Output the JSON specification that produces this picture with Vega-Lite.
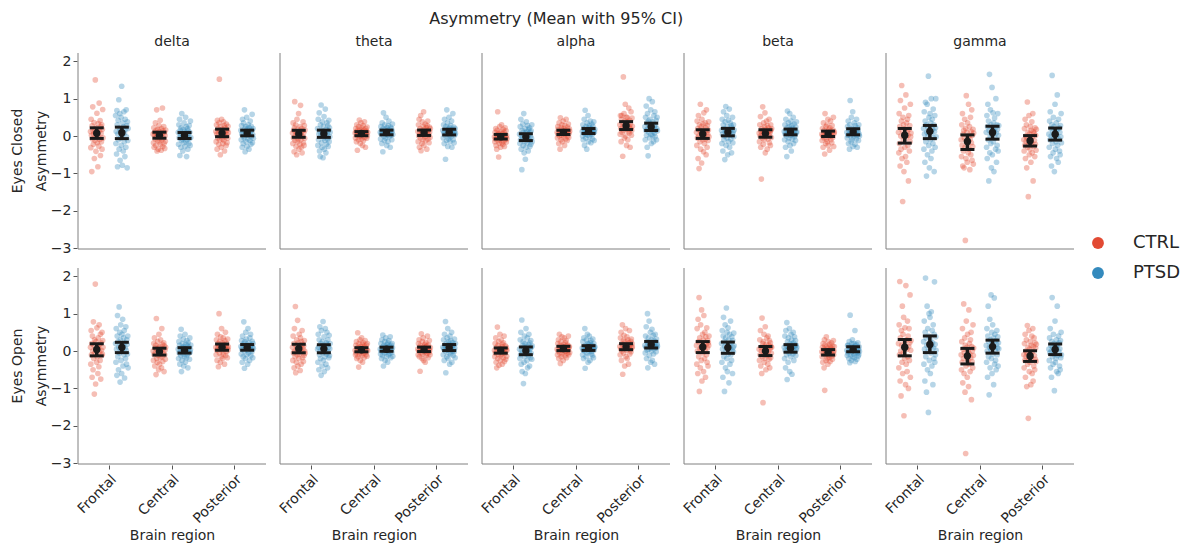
{
"$schema": "https://vega.github.io/schema/vega-lite/v6.json",
"background": "white",
"padding": {"left": 11, "top": 11, "right": 5, "bottom": 5},
"title": {"text": "Asymmetry (Mean with 95% CI)", "fontSize": 16, "fontWeight": "normal", "font": "DejaVu Sans", "color": "#262626", "anchor": "middle", "offset": 8, "dx": -40},
"datasets": {"d": [
{"s":"Eyes Closed","b":"delta","g":"CTRL","Frontal":[0.12,-0.31,0.45,0.02,-0.95,0.27,-0.08,0.78,0.15,-0.22,0.05,0.36,-0.6,0.19,-0.12,1.5,0.08,-0.41,0.22,-0.03,0.61,-0.18,0.1,-0.82,0.33,0,-0.27,0.88,0.14,-0.09,0.41,-0.52,0.25,0.07,-0.15,0.3,-0.35,0.18,0.71,-0.05],"Central":[0.05,-0.18,0.22,-0.3,0.1,0.02,-0.08,0.35,-0.25,0.15,-0.02,0.7,-0.4,0.08,-0.12,0.18,-0.35,0,0.28,-0.15,0.12,-0.05,0.42,-0.22,0.03,-0.38,0.2,-0.1,0.06,0.75,-0.28,0.14,-0.06,0.25,-0.2,0.09,-0.33,0.01,-0.14,0.16],"Posterior":[0.12,-0.15,0.3,0.05,-0.35,0.42,-0.05,0.2,0.08,-0.22,0.35,1.52,-0.1,0.15,-0.5,0.25,0,-0.3,0.45,0.1,-0.08,0.18,-0.2,0.02,0.38,-0.12,0.28,-0.4,0.06,0.22,-0.02,0.14,-0.25,0.32,0.04,-0.18,0.16,-0.06,0.26,0.09]},
{"s":"Eyes Closed","b":"delta","g":"PTSD","Frontal":[0.55,-0.2,0.12,-0.48,0.68,0.3,-0.82,0.05,0.42,-0.1,0.97,-0.35,0.21,0.6,-0.65,0.15,-0.05,0.5,-0.25,1.33,0.02,-0.78,0.35,0.1,-0.4,0.25,0.65,-0.15,0.08,-0.55,0.45,0.18,-0.3,0.7,-0.02,0.28,-0.85,0.38,-0.12,0.2],"Central":[0.1,-0.22,0.3,-0.05,0.45,-0.52,0.15,0.02,-0.3,0.22,-0.12,0.6,-0.08,0.05,-0.4,0.18,0,-0.18,0.35,-0.02,0.12,-0.28,0.08,0.5,-0.15,0.25,-0.55,0.03,-0.1,0.2,-0.35,0.14,0.06,-0.2,0.28,-0.06,0.1,-0.25,0.4,-0.04],"Posterior":[0.15,-0.1,0.28,0.05,-0.3,0.45,0.1,-0.2,0.35,0,-0.05,0.7,0.2,-0.42,0.12,0.25,-0.15,0.08,0.5,-0.28,0.18,0.02,-0.08,0.3,0.14,-0.35,0.22,0.06,-0.12,0.4,0.1,-0.22,0.26,-0.02,0.16,0.58,-0.18,0.04,0.2,-0.06]},
{"s":"Eyes Closed","b":"theta","g":"CTRL","Frontal":[0.08,-0.2,0.35,-0.05,0.15,-0.42,0.22,0.92,-0.12,0.02,0.3,-0.28,0.1,-0.5,0.45,0.05,-0.15,0.18,-0.08,0.6,-0.35,0.12,0,-0.22,0.25,0.82,-0.1,0.06,-0.3,0.2,-0.45,0.14,-0.02,0.38,-0.18,0.09,-0.25,0.28,-0.06,0.16],"Central":[0.08,-0.05,0.2,0.12,-0.15,0.3,0.02,-0.38,0.15,0.05,-0.1,0.25,0.1,0.43,-0.02,0.18,-0.2,0.06,0.35,0,-0.08,0.22,0.14,-0.25,0.09,0.28,-0.12,0.04,0.16,0.38,-0.04,0.11,-0.3,0.2,0.07,0.13,-0.06,0.24,0.01,0.1],"Posterior":[0.12,-0.15,0.3,0,0.45,-0.3,0.08,0.2,-0.05,0.55,-0.39,0.15,0.05,-0.2,0.38,0.1,-0.1,0.25,0.65,-0.25,0.02,0.18,-0.02,0.32,0.06,-0.12,0.22,0.14,-0.35,0.28,0.09,0.4,-0.08,0.16,0.03,-0.18,0.24,0.11,-0.04,0.2]},
{"s":"Eyes Closed","b":"theta","g":"PTSD","Frontal":[0.2,-0.25,0.45,-0.1,0.05,0.62,-0.4,0.12,-0.55,0.3,0,0.83,-0.18,0.15,-0.3,0.38,0.08,-0.58,0.25,-0.05,0.52,-0.35,0.1,-0.12,0.72,0.02,-0.45,0.18,-0.22,0.35,0.06,-0.08,0.28,-0.28,0.14,0.42,-0.15,0.22,-0.02,0.1],"Central":[0.1,-0.08,0.25,0.05,0.15,-0.2,0.35,0.08,-0.42,0.2,0.62,0,0.12,-0.12,0.3,0.06,0.18,-0.05,0.5,0.1,-0.25,0.22,0.03,0.14,-0.15,0.28,0.09,0.4,-0.02,0.16,0.07,-0.3,0.24,0.11,0.02,0.2,-0.1,0.13,0.32,0.04],"Posterior":[0.15,-0.05,0.3,0.08,-0.2,0.45,0.1,0.02,-0.62,0.25,0.18,-0.12,0.7,0.05,0.35,-0.28,0.12,0.2,-0.08,0.5,0,0.22,-0.15,0.1,0.28,-0.02,0.14,0.4,-0.3,0.06,0.18,0.6,-0.1,0.09,0.24,-0.18,0.12,0.03,0.2,0.07]},
{"s":"Eyes Closed","b":"alpha","g":"CTRL","Frontal":[-0.02,-0.15,0.1,-0.08,0.2,-0.25,0,-0.35,0.15,-0.05,0.65,-0.12,0.05,-0.56,0.08,-0.2,0.25,-0.1,0.02,-0.3,0.12,-0.04,0.3,-0.18,-0.06,0.06,-0.22,0.18,-0.01,-0.14,0.1,-0.28,0.04,0.22,-0.09,-0.03,0.14,-0.16,0.01,-0.07],"Central":[0.1,-0.05,0.25,0.05,0.18,-0.2,0.35,0,0.12,-0.35,0.49,0.08,-0.1,0.22,0.02,0.3,-0.15,0.15,0.06,0.4,-0.02,0.2,0.1,-0.25,0.28,0.04,0.14,-0.08,0.45,0.09,0.16,-0.12,0.24,0,0.11,0.32,-0.04,0.07,0.19,0.13],"Posterior":[0.3,0.05,0.55,0.2,-0.15,0.45,0.55,0.1,0.35,-0.54,0.25,1.58,0.15,0.6,-0.05,0.4,0.22,0.85,0,0.3,0.5,-0.25,0.18,0.5,0.28,-0.1,0.38,0.12,0.75,0.25,0.08,0.42,-0.3,0.32,0.2,0.65,0.02,0.15,0.48,0.26]},
{"s":"Eyes Closed","b":"alpha","g":"PTSD","Frontal":[0.05,-0.2,0.25,-0.1,0.45,-0.35,0,-0.9,0.15,-0.05,0.32,-0.25,0.1,0.6,-0.45,0.02,-0.15,0.2,-0.62,0.08,-0.3,0.38,-0.08,0.12,-0.18,0.28,-0.02,-0.4,0.18,0.05,-0.12,0.22,-0.28,0.1,0,-0.22,0.14,-0.06,0.3,-0.15],"Central":[0.12,0,0.3,-0.1,0.2,0.08,0.45,-0.25,0.15,0.69,0.05,-0.05,0.25,0.1,-0.35,0.35,0.18,0.02,0.55,-0.15,0.22,0.1,0.28,-0.02,0.14,0.4,0.06,-0.18,0.2,0.12,0.32,0.04,-0.08,0.26,0.16,0.09,0.38,-0.12,0.11,0.18],"Posterior":[0.25,-0.1,0.5,0.15,0.8,0.02,0.35,-0.3,0.6,0.2,-0.53,0.4,0.1,1,0.28,-0.05,0.45,0.18,0.7,0.05,-0.2,0.32,0.22,0.92,0,0.38,0.12,-0.15,0.55,0.26,0.08,0.65,-0.02,0.3,0.16,0.42,-0.1,0.2,0.5,0.14]},
{"s":"Eyes Closed","b":"beta","g":"CTRL","Frontal":[0.1,-0.25,0.4,-0.05,0.2,-0.6,0.55,0,-0.87,0.3,0.15,-0.15,0.85,-0.35,0.08,0.25,-0.72,0.45,0.05,-0.1,0.32,0.18,-0.42,0.62,0.02,-0.2,0.12,0.35,-0.08,0.22,-0.5,0.7,0.1,-0.3,0.28,0.04,-0.12,0.16,0.38,-0.02],"Central":[0.08,-0.15,0.3,0,0.52,-0.3,0.12,-1.15,0.2,0.05,-0.05,0.78,0.15,-0.22,0.35,0.1,-0.1,0.25,0.62,-0.45,0.02,0.18,-0.02,0.4,0.06,-0.35,0.28,0.12,-0.08,0.22,0.04,0.45,-0.18,0.14,0.09,-0.25,0.3,0.16,-0.04,0.2],"Posterior":[0.05,-0.12,0.2,0,-0.3,0.35,0.08,-0.05,0.15,-0.48,0.6,0.02,-0.2,0.25,0.1,-0.08,0.3,-0.15,0.12,0.45,-0.25,0.04,0.18,-0.02,-0.38,0.22,0.06,0.4,-0.1,0.14,0,-0.18,0.28,0.09,-0.04,0.16,0.5,-0.28,0.07,0.11]},
{"s":"Eyes Closed","b":"beta","g":"PTSD","Frontal":[0.15,-0.2,0.45,0.05,-0.4,0.3,0.65,-0.1,0.2,0,-0.63,0.38,0.1,0.79,-0.25,0.12,0.55,-0.05,0.25,-0.5,0.08,0.42,-0.15,0.18,0.72,-0.3,0.02,0.35,0.14,-0.08,0.28,-0.45,0.22,0.06,0.5,-0.18,0.1,0.3,-0.02,0.16],"Central":[0.12,-0.1,0.3,0.05,-0.3,0.45,0.15,0,-0.55,0.22,0.67,0.08,-0.15,0.35,0.1,-0.05,0.25,0.6,-0.25,0.18,0.02,0.4,-0.4,0.14,0.28,-0.08,0.2,0.06,0.5,-0.2,0.1,0.32,-0.02,0.16,0.03,-0.12,0.24,0.09,0.38,0.11],"Posterior":[0.1,-0.05,0.25,0.02,0.4,-0.2,0.15,0.06,-0.35,0.3,0.95,0,0.12,-0.15,0.5,0.08,-0.1,0.2,0.65,-0.28,0.04,0.18,-0.02,0.35,0.1,-0.22,0.28,0.06,0.14,-0.08,0.45,0.02,-0.3,0.22,0.09,0.16,-0.12,0.3,0.05,0]},
{"s":"Eyes Closed","b":"gamma","g":"CTRL","Frontal":[0.1,-0.45,0.6,-0.2,0.25,-0.8,0.95,0,-0.35,0.4,1.35,-0.6,0.15,-1.75,0.5,-0.1,0.3,-0.95,0.05,0.75,-0.3,0.2,-0.55,1.1,-0.05,0.35,-0.7,0.12,0.45,-0.25,0.02,-1.2,0.55,0.18,-0.4,0.28,-0.15,0.85,-0.02,0.08],"Central":[-0.1,-0.55,0.3,-0.25,0.6,-0.8,0.05,-0.4,0.15,-0.85,-0.05,0.45,-0.3,-2.79,0.2,-0.6,1.08,-0.15,0.1,-0.7,0.35,-0.2,-0.45,0.85,0,-0.35,0.25,-0.9,-0.08,0.5,-0.5,0.12,-0.18,0.7,-0.65,0.02,-0.28,0.18,-0.75,0.08],"Posterior":[-0.1,-0.4,0.2,-0.25,0.45,-0.6,0,-0.15,0.3,-0.85,-0.05,0.91,-0.3,0.1,-1.62,-0.2,0.55,-0.5,0.05,-0.35,0.25,-0.08,-0.7,0.15,-0.18,0.38,-0.45,-0.02,0.6,-1.2,0.12,-0.28,0.08,-0.12,-0.55,0.22,-0.22,0.02,-0.38,0.18]},
{"s":"Eyes Closed","b":"gamma","g":"PTSD","Frontal":[0.2,-0.35,0.65,0.05,-0.7,0.4,0.9,-0.15,0.3,-1.07,0.1,0.85,-0.5,0.25,0,1.6,-0.25,0.5,-0.85,0.15,0.6,-0.1,0.35,-0.6,1,0.08,-0.4,0.45,0.18,-0.2,0.72,-0.05,0.3,-0.95,0.12,0.55,-0.3,0.22,1,-0.02],"Central":[0.1,-0.3,0.55,-0.6,0.25,0.85,-0.1,0.4,-1.2,0.15,1.65,-0.45,0,0.7,-0.2,0.3,-0.85,0.05,1.3,-0.5,0.2,0.62,-0.15,0.35,-0.95,0.12,0.48,-0.05,0.22,-0.35,1,0.08,-0.7,0.3,-0.25,0.18,0.6,-0.4,0.02,0.28],"Posterior":[0.05,-0.3,0.4,-0.1,0.65,-0.55,0.2,0,-0.8,0.3,1.62,-0.2,0.12,-0.45,0.5,-0.05,0.25,-0.95,0.08,0.85,-0.35,0.15,-0.15,0.35,-0.6,0.02,1.1,-0.25,0.18,-0.7,0.45,-0.08,0.22,-0.4,0.1,-0.5,0.28,-0.02,0.6,-0.18]},
{"s":"Eyes Open","b":"delta","g":"CTRL","Frontal":[0.1,-0.35,0.55,-0.1,0.2,-0.7,0.4,0,-0.5,0.78,-0.2,0.15,-1.15,0.3,-0.05,1.79,-0.88,0.25,0.05,-0.3,0.62,-0.15,0.12,-0.6,0.35,0.08,-0.42,0.7,-0.02,0.18,-0.25,0.45,-0.75,0.22,0.02,-0.12,0.5,-0.08,0.28,0.1],"Central":[0,-0.25,0.2,-0.1,0.35,-0.4,0.08,-0.05,0.15,-0.63,0.87,-0.2,0.05,-0.3,0.25,-0.12,0.1,-0.5,0.45,-0.02,-0.35,0.12,-0.18,0.3,-0.08,0.02,-0.45,0.6,-0.15,0.18,-0.28,0.06,-0.06,0.22,-0.55,0.14,-0.1,0.03,-0.22,0.1],"Posterior":[0.1,-0.1,0.3,0.02,-0.25,0.45,0.08,0.2,-0.42,0.15,1,-0.05,0.25,0.05,-0.3,0.38,0.12,-0.15,0.6,0,0.22,-0.2,0.1,0.35,-0.08,0.18,0.05,-0.35,0.28,0.06,0.5,-0.12,0.14,-0.02,0.2,0.09,-0.18,0.32,0.03,0.11]},
{"s":"Eyes Open","b":"delta","g":"PTSD","Frontal":[0.2,-0.3,0.6,0.05,-0.65,0.4,0.95,-0.15,0.25,-0.5,0.1,1.18,-0.05,0.5,-0.83,0.3,0.7,-0.25,0.15,-0.6,0.45,0,0.85,-0.4,0.12,0.35,-0.1,0.55,-0.72,0.22,0.08,-0.2,0.65,0.02,-0.35,0.3,0.18,-0.08,0.4,-0.45],"Central":[0.05,-0.2,0.25,-0.05,0.15,-0.35,0.4,0,-0.12,0.58,-0.55,0.1,-0.25,0.2,0.02,-0.08,0.32,-0.4,0.12,-0.15,0.08,0.45,-0.3,0.18,-0.02,0.06,-0.18,0.28,-0.1,0.14,-0.45,0.22,0,-0.06,0.1,-0.22,0.35,-0.03,0.04,0.16],"Posterior":[0.12,-0.08,0.28,0.05,-0.3,0.4,0.15,-0.15,0.2,0.78,0,-0.46,0.25,0.1,-0.2,0.5,0.08,0.32,-0.1,0.18,0.02,-0.35,0.6,0.14,-0.05,0.22,0.06,-0.25,0.35,0.1,0.45,-0.12,0.16,0.03,-0.02,0.26,0.09,-0.18,0.2,0.07]},
{"s":"Eyes Open","b":"theta","g":"CTRL","Frontal":[0.1,-0.25,0.4,-0.05,0.2,-0.45,0.6,0,-0.15,1.19,-0.58,0.15,-0.3,0.3,0.05,-0.1,0.82,-0.4,0.22,0.02,-0.2,0.45,-0.08,0.12,-0.52,0.35,0.08,-0.35,0.25,-0.02,0.55,-0.18,0.18,0.06,-0.28,0.14,-0.12,0.28,0,-0.06],"Central":[0.02,-0.1,0.15,-0.05,0.25,-0.2,0.08,0,0.49,-0.15,0.1,-0.43,0.2,0.04,-0.08,0.3,-0.25,0.12,0.06,-0.02,0.35,-0.12,0.18,-0.3,0.05,0.22,-0.06,0.1,-0.18,0.14,0,0.28,-0.04,0.08,-0.1,0.16,0.03,-0.14,0.2,0.01],"Posterior":[0.05,-0.1,0.2,0,0.3,-0.15,0.1,-0.54,0.15,0.02,-0.05,0.46,0.08,-0.2,0.25,0.04,-0.08,0.35,-0.25,0.12,0.06,-0.02,0.18,-0.3,0.1,0.22,-0.12,0.03,0.14,-0.06,0.4,0,-0.18,0.16,0.07,-0.04,0.28,0.01,-0.1,0.09]},
{"s":"Eyes Open","b":"theta","g":"PTSD","Frontal":[0.05,-0.3,0.45,0.1,-0.5,0.3,-0.1,0.65,0,-0.2,0.2,-0.65,0.55,0.12,-0.4,0.25,-0.05,0.79,-0.25,0.15,0.38,-0.55,0.08,-0.15,0.6,0.02,-0.35,0.22,-0.08,0.5,0.18,-0.45,0.3,-0.02,0.1,-0.18,0.42,-0.12,0.06,0.2],"Central":[0.05,-0.08,0.2,0,-0.2,0.3,0.1,-0.12,0.43,0.02,-0.4,0.15,0.08,-0.05,0.25,-0.25,0.12,0.35,-0.02,0.06,-0.15,0.18,0.04,-0.3,0.22,0.1,-0.1,0.28,0,0.14,-0.06,0.38,0.07,-0.18,0.16,0.03,-0.04,0.2,0.09,-0.14],"Posterior":[0.1,-0.1,0.3,0.05,-0.25,0.45,0.15,0,0.79,-0.58,0.2,0.08,-0.15,0.35,0.02,0.6,-0.2,0.12,0.25,-0.05,0.18,-0.35,0.4,0.06,-0.08,0.28,0.1,0.5,-0.3,0.14,0,0.22,-0.12,0.16,0.04,-0.02,0.32,0.08,-0.18,0.2]},
{"s":"Eyes Open","b":"alpha","g":"CTRL","Frontal":[0.02,-0.15,0.2,-0.05,0.35,-0.3,0.1,-0.45,0,0.64,-0.2,0.15,-0.1,0.25,-0.38,0.05,-0.02,0.45,-0.25,0.08,-0.12,0.3,-0.08,0.12,-0.35,0.18,0,-0.18,0.22,-0.04,0.4,-0.28,0.06,-0.06,0.14,-0.22,0.03,0.1,-0.14,0.02],"Central":[0.05,-0.1,0.2,0,0.3,-0.2,0.1,0.45,-0.05,0.15,-0.33,0.08,0.25,-0.15,0.02,0.38,-0.08,0.12,0.06,-0.25,0.18,0.04,0.35,-0.02,0.1,-0.12,0.22,0,0.28,-0.18,0.14,0.07,-0.06,0.16,0.03,0.4,-0.1,0.09,0.12,-0.04],"Posterior":[0.12,-0.1,0.35,0.05,0.5,-0.25,0.2,0,0.7,-0.62,0.15,0.28,-0.05,0.42,0.08,-0.4,0.25,0.1,0.6,-0.15,0.18,0.02,0.38,-0.2,0.14,0.3,0.06,-0.35,0.22,0.1,0.55,-0.08,0.16,0.04,0.26,-0.02,0.32,0.09,0.2,0.11]},
{"s":"Eyes Open","b":"alpha","g":"PTSD","Frontal":[0.05,-0.2,0.3,-0.1,0.5,-0.35,0,0.83,-0.55,0.15,-0.05,0.25,-0.87,0.1,-0.3,0.4,-0.15,0.2,-0.6,0.08,0.6,-0.08,0.12,-0.25,0.35,-0.45,0.02,0.18,-0.12,0.45,-0.02,-0.4,0.22,0.06,-0.18,0.28,-0.06,0.1,-0.22,0.14],"Central":[0.08,-0.1,0.25,0.02,-0.2,0.35,0.1,0,0.6,-0.46,0.15,0.05,-0.15,0.3,0.12,-0.05,0.45,0.2,-0.3,0.06,0.18,-0.02,0.4,0.1,-0.25,0.22,0.04,0.28,-0.08,0.14,0,0.16,-0.12,0.32,0.07,-0.18,0.2,0.03,0.1,0.11],"Posterior":[0.15,-0.05,0.4,0.1,0.65,-0.2,0.25,0.02,1,-0.45,0.18,0.35,0.05,0.8,-0.12,0.22,0.12,0.5,-0.3,0.08,0.3,0,0.58,-0.25,0.2,0.14,0.42,-0.08,0.28,0.06,-0.35,0.16,0.45,0.1,0.24,-0.02,0.32,0.09,0.19,0.13]},
{"s":"Eyes Open","b":"beta","g":"CTRL","Frontal":[0.15,-0.35,0.6,0,-0.6,0.85,0.25,-0.15,1.43,-1.08,0.35,0.05,-0.45,0.7,0.1,-0.25,1.1,-0.8,0.2,0.45,-0.05,0.3,-0.55,0.95,0.12,-0.2,0.5,0.02,-0.7,0.38,0.18,-0.1,0.62,-0.3,0.08,0.28,-0.4,0.22,0.15,0.4],"Central":[0.05,-0.25,0.3,-0.1,0.55,-0.4,0.1,0,-0.6,0.88,-0.15,0.2,-1.38,0.25,-0.05,0.45,-0.3,0.12,-0.2,0.65,0.02,-0.5,0.18,-0.08,0.35,-0.12,0.08,-0.35,0.4,-0.02,0.15,-0.22,0.28,-0.45,0.06,0.22,-0.18,0.12,-0.06,0.1],"Posterior":[-0.02,-0.15,0.1,-0.3,0.2,-0.05,0.05,-0.45,0.3,-1.05,0.15,-0.1,0,-0.25,0.38,-0.08,0.12,-0.2,0.08,-0.35,0.25,-0.12,0.02,-0.18,0.18,-0.04,-0.28,0.1,0.04,-0.06,0.22,-0.14,0.06,-0.22,0.14,-0.01,0.28,-0.1,0,0.12]},
{"s":"Eyes Open","b":"beta","g":"PTSD","Frontal":[0.2,-0.3,0.55,0.05,-0.7,0.4,0.9,-0.15,0.25,-1.08,0.12,0.7,-0.45,0.35,0,1.15,-0.2,0.5,-0.55,0.15,0.62,-0.08,0.3,-0.85,0.18,0.45,-0.35,0.08,0.8,-0.1,0.22,-0.25,0.38,0.02,-0.6,0.28,0.1,-0.02,0.48,0.14],"Central":[0.1,-0.2,0.4,0.02,-0.45,0.55,0.15,-0.1,0.76,-0.76,0.25,0.05,-0.3,0.35,0.08,-0.05,0.6,-0.55,0.2,0.12,-0.15,0.45,0,0.3,-0.62,0.18,0.06,-0.08,0.5,0.22,-0.25,0.12,0.38,-0.02,0.14,0.28,-0.12,0.16,0.04,0.1],"Posterior":[0.02,-0.12,0.15,-0.05,0.15,0,-0.2,0.25,0.08,-0.31,0.96,-0.1,0.1,0.05,-0.25,0.2,-0.02,0.3,-0.15,0.12,0.03,-0.08,0.2,-0.18,0.06,0.55,-0.28,0.14,-0.04,0.18,0,-0.22,0.09,-0.06,0.22,-0.14,0.04,-0.1,0.11,-0.01]},
{"s":"Eyes Open","b":"gamma","g":"CTRL","Frontal":[0.2,-0.45,0.7,-0.1,1.86,-0.8,0.35,0,-1.2,0.55,0.15,-0.3,1.2,-0.6,0.45,-0.05,0.9,-1.73,0.25,-0.2,0.62,0.1,-0.9,1.75,-0.35,0.3,0.05,-0.55,0.8,-0.15,0.4,-1,0.12,0.6,-0.25,0.22,1.5,-0.7,0.02,0.28],"Central":[-0.1,-0.5,0.25,-0.3,0.6,-0.85,0.05,-0.2,1.26,-0.6,-0.05,0.35,-1.1,0.15,-2.74,-0.4,0.8,-0.15,0.1,-0.7,0.45,-0.25,0.02,-0.95,1.1,-0.35,0.2,-0.08,-0.55,0.3,-0.18,0.5,-1.3,0.12,-0.28,0,-0.45,0.7,-0.12,0.08],"Posterior":[-0.1,-0.45,0.2,-0.25,0.45,-0.7,0,-0.15,0.3,-0.95,-0.05,0.68,-0.35,0.1,-1.8,-0.2,0.55,-0.55,0.05,-0.3,0.25,-0.08,-0.9,0.15,-0.18,0.4,-0.6,-0.02,0.6,-0.8,0.12,-0.4,0.35,-0.12,-0.5,0.22,-0.22,0.08,-0.28,0.18]},
{"s":"Eyes Open","b":"gamma","g":"PTSD","Frontal":[0.25,-0.35,0.8,0.05,-0.8,0.5,1.95,-0.15,0.35,-1.1,0.15,1.2,-0.5,0.6,0,-1.64,0.4,1,-0.25,0.2,0.9,-0.6,0.3,-0.05,1.05,0.12,-0.4,0.55,0.22,-0.9,0.7,0.08,-0.2,0.45,1.85,-0.3,0.18,-0.1,0.38,0.02],"Central":[0.15,-0.3,0.6,0,-0.7,0.4,1.2,-0.15,0.25,-1.17,0.1,0.85,-0.45,0.3,0.05,1.5,-0.2,0.5,-0.6,0.2,0.7,-0.08,0.35,-0.9,0.12,1.42,-0.35,0.45,0.02,-0.25,0.28,-0.5,0.18,0.55,-0.1,0.08,0.38,-0.4,0.22,0.06],"Posterior":[0.05,-0.25,0.35,-0.05,0.6,-0.45,0.15,0,-0.7,0.25,1.43,-0.15,0.1,-0.35,0.45,-0.08,0.2,-1.06,0.02,0.8,-0.3,0.12,-0.2,0.3,-0.55,0.08,1.2,-0.12,0.18,-0.6,0.4,-0.02,0.22,-0.4,0.06,-0.5,0.28,-0.18,0.5,-0.1]}
]},
"data": {"name": "d"},
"transform": [
  {"flatten": ["Frontal", "Central", "Posterior"]},
  {"window": [{"op": "row_number", "as": "n"}], "groupby": ["s", "b"]},
  {"fold": ["Frontal", "Central", "Posterior"], "as": ["r", "v"]}
],
"facet": {
  "row": {"field": "s", "type": "nominal", "sort": ["Eyes Closed", "Eyes Open"], "title": null,
          "header": {"labelExpr": "[datum.value, 'Asymmetry']", "labelAngle": -90, "labelFontSize": 14, "labelPadding": -13, "labelLineHeight": 24, "labelAlign": "center", "labelBaseline": "bottom"}},
  "column": {"field": "b", "type": "nominal", "sort": ["delta", "theta", "alpha", "beta", "gamma"], "title": null,
          "header": {"labelFontSize": 14, "labelPadding": 3}}
},
"spacing": {"row": 17, "column": 12},
"spec": {
  "width": 188,
  "height": 196,
  "layer": [
    {"mark": {"type": "circle", "size": 32, "opacity": 0.36},
     "encoding": {
       "x": {"field": "r", "type": "nominal", "sort": ["Frontal", "Central", "Posterior"], "title": "Brain region",
             "scale": {"paddingInner": 0, "paddingOuter": 0},
             "axis": {"labelAngle": -45, "labelAlign": "right", "labelBaseline": "top", "labelPadding": 3, "titlePadding": 3, "domain": false}},
       "y": {"field": "v", "type": "quantitative", "title": null,
             "scale": {"domain": [-3.02, 2.22], "nice": false, "zero": false},
             "axis": {"values": [-3, -2, -1, 0, 1, 2], "domain": false, "labelPadding": 2, "labelOverlap": false, "labelFlush": false}},
       "xOffset": {"field": "n", "type": "quantitative", "scale": {"domain": [1, 40, 41, 80], "range": [12.5, 25, 37.6, 50.1], "nice": false, "zero": false}},
       "color": {"field": "g", "type": "nominal", "scale": {"domain": ["CTRL", "PTSD"], "range": ["#E24A33", "#348ABD"]},
                 "legend": {"title": null, "orient": "none", "legendX": 1011, "legendY": 181, "labelFontSize": 18, "symbolSize": 140, "symbolType": "circle", "symbolOpacity": 1, "symbolStrokeWidth": 0, "rowPadding": 12, "labelOffset": 26}}
     }},
    {"transform": [{"aggregate": [{"op": "mean", "field": "v", "as": "m"}, {"op": "ci0", "field": "v", "as": "lo"}, {"op": "ci1", "field": "v", "as": "hi"}, {"op": "mean", "field": "n", "as": "n"}], "groupby": ["s", "b", "r", "g"]}],
     "encoding": {"x": {"field": "r", "type": "nominal", "sort": ["Frontal", "Central", "Posterior"], "title": "Brain region", "axis": {"labelAngle": -45, "labelAlign": "right", "labelBaseline": "top", "labelPadding": 3, "titlePadding": 3, "domain": false}}, "xOffset": {"field": "n", "type": "quantitative"}},
     "layer": [
       {"mark": {"type": "rule", "color": "#1a1a1a", "strokeWidth": 3.5}, "encoding": {"y": {"field": "lo", "type": "quantitative", "title": null, "axis": {"values": [-3, -2, -1, 0, 1, 2], "domain": false, "labelPadding": 2, "labelOverlap": false, "labelFlush": false}}, "y2": {"field": "hi"}}},
       {"mark": {"type": "tick", "orient": "horizontal", "color": "#1a1a1a", "size": 14, "thickness": 3, "opacity": 1}, "encoding": {"y": {"field": "lo", "type": "quantitative", "title": null, "axis": {"values": [-3, -2, -1, 0, 1, 2], "domain": false, "labelPadding": 2, "labelOverlap": false, "labelFlush": false}}}},
       {"mark": {"type": "tick", "orient": "horizontal", "color": "#1a1a1a", "size": 14, "thickness": 3, "opacity": 1}, "encoding": {"y": {"field": "hi", "type": "quantitative", "title": null, "axis": {"values": [-3, -2, -1, 0, 1, 2], "domain": false, "labelPadding": 2, "labelOverlap": false, "labelFlush": false}}}},
       {"mark": {"type": "circle", "color": "#1a1a1a", "size": 55, "opacity": 1}, "encoding": {"y": {"field": "m", "type": "quantitative", "title": null, "axis": {"values": [-3, -2, -1, 0, 1, 2], "domain": false, "labelPadding": 2, "labelOverlap": false, "labelFlush": false}}}}
     ]},
    {"transform": [{"aggregate": [{"op": "count", "as": "c"}], "groupby": ["s", "b"]}],
     "layer": [
       {"mark": {"type": "rule", "color": "#808080", "strokeWidth": 1}, "encoding": {"x": {"datum": "Frontal", "type": "nominal", "bandPosition": 0, "title": "Brain region", "axis": {"labelAngle": -45, "labelAlign": "right", "labelBaseline": "top", "labelPadding": 3, "titlePadding": 3, "domain": false}}, "y": {"datum": -3.02, "type": "quantitative", "title": null, "axis": {"values": [-3, -2, -1, 0, 1, 2], "domain": false, "labelPadding": 2, "labelOverlap": false, "labelFlush": false}}, "y2": {"datum": 2.22}}},
       {"mark": {"type": "rule", "color": "#808080", "strokeWidth": 1}, "encoding": {"y": {"datum": -3.02, "type": "quantitative", "title": null, "axis": {"values": [-3, -2, -1, 0, 1, 2], "domain": false, "labelPadding": 2, "labelOverlap": false, "labelFlush": false}}}}
     ]}
  ]
},
"config": {
  "font": "DejaVu Sans",
  "view": {"stroke": null},
  "axis": {"labelFontSize": 14, "titleFontSize": 14, "labelColor": "#262626", "titleColor": "#262626", "titleFontWeight": "normal", "tickColor": "#555", "tickSize": 4, "grid": false, "labelFont": "DejaVu Sans", "titleFont": "DejaVu Sans", "minExtent": 0},
  "header": {"labelFont": "DejaVu Sans", "labelColor": "#262626", "labelFontSize": 14},
  "legend": {"labelFont": "DejaVu Sans", "labelColor": "#262626"}
}
}
